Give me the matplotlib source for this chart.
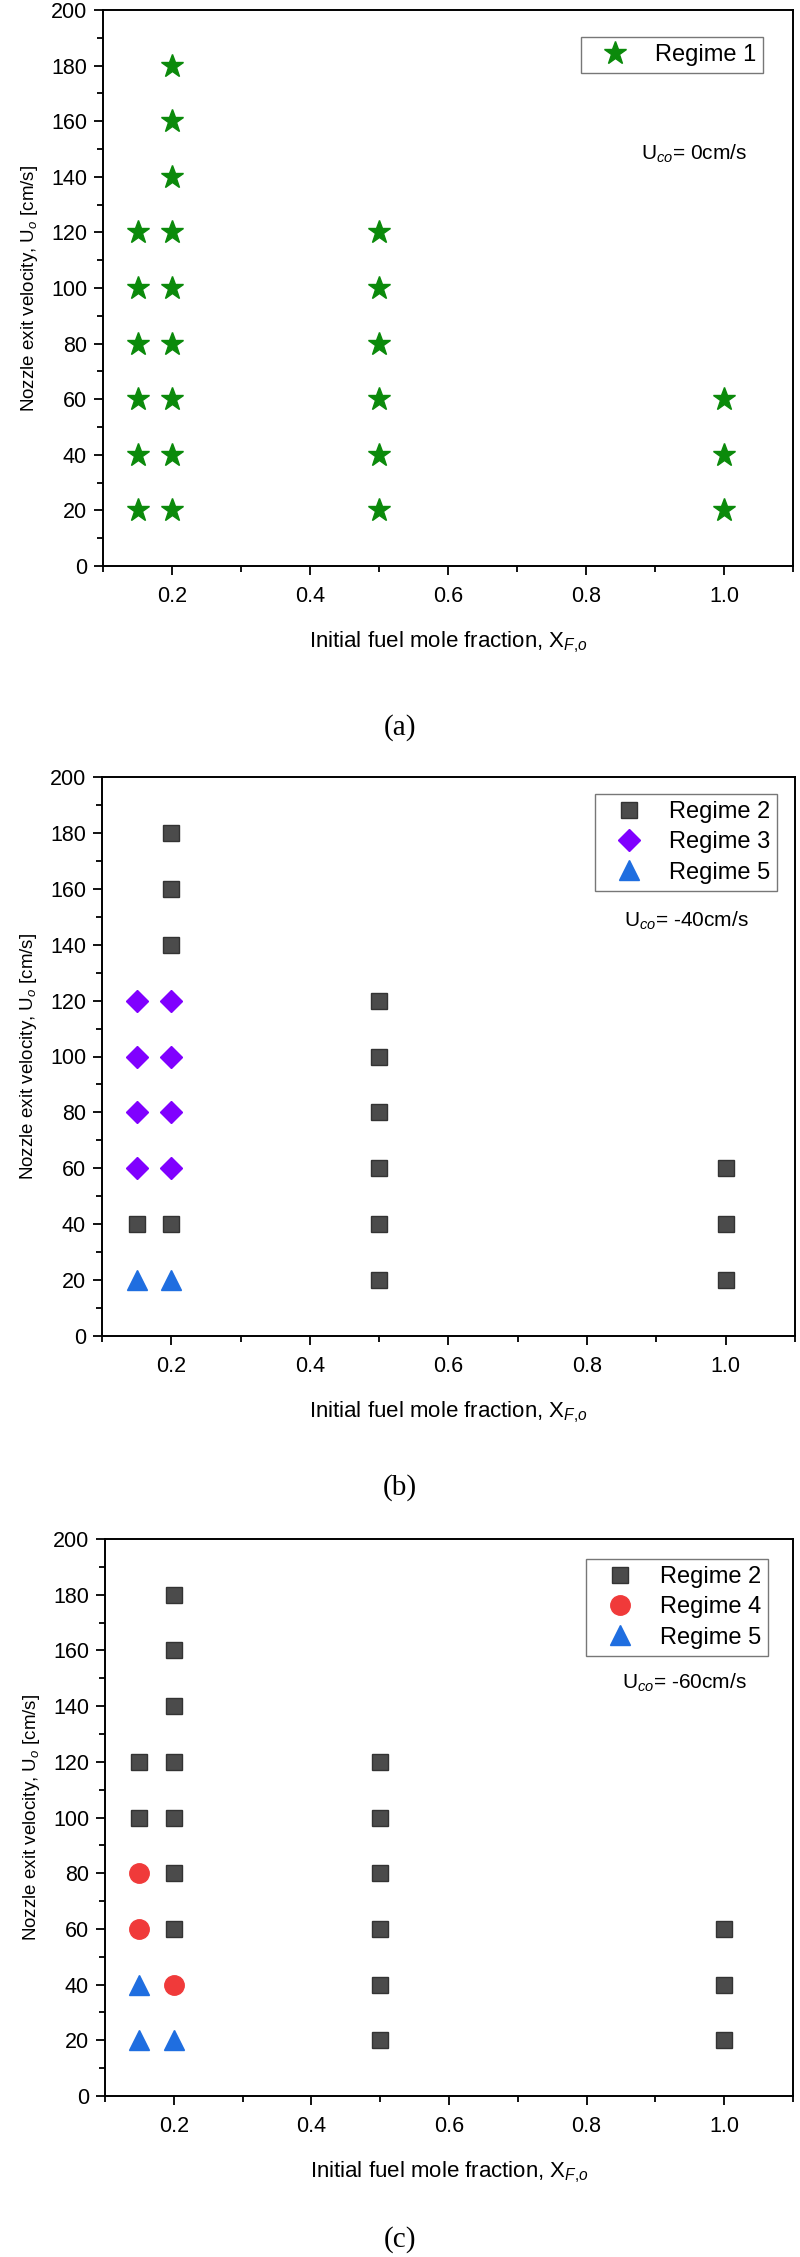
import matplotlib
matplotlib.use("Agg")
import matplotlib.pyplot as plt
from matplotlib.ticker import MultipleLocator

plt.rcParams["font.family"] = ["Liberation Sans", "DejaVu Sans"]
plt.rcParams["mathtext.fontset"] = "custom"
plt.rcParams["mathtext.rm"] = "Liberation Sans"
plt.rcParams["mathtext.it"] = "Liberation Sans:italic"

# panel (a): U_co = 0 cm/s
a_r1_x = [0.15] * 6 + [0.2] * 9 + [0.5] * 6 + [1.0] * 3
a_r1_y = [20, 40, 60, 80, 100, 120,
          20, 40, 60, 80, 100, 120, 140, 160, 180,
          20, 40, 60, 80, 100, 120,
          20, 40, 60]

# panel (b): U_co = -40 cm/s
b_r2_x = [0.15, 0.2, 0.2, 0.2, 0.2] + [0.5] * 6 + [1.0] * 3
b_r2_y = [40, 40, 140, 160, 180, 20, 40, 60, 80, 100, 120, 20, 40, 60]
b_r3_x = [0.15] * 4 + [0.2] * 4
b_r3_y = [60, 80, 100, 120, 60, 80, 100, 120]
b_r5_x = [0.15, 0.2]
b_r5_y = [20, 20]

# panel (c): U_co = -60 cm/s
c_r2_x = [0.15, 0.15] + [0.2] * 7 + [0.5] * 6 + [1.0] * 3
c_r2_y = [100, 120, 60, 80, 100, 120, 140, 160, 180,
          20, 40, 60, 80, 100, 120, 20, 40, 60]
c_r4_x = [0.15, 0.15, 0.2]
c_r4_y = [60, 80, 40]
c_r5_x = [0.15, 0.15, 0.2]
c_r5_y = [20, 40, 20]

co_labels = ["U$_{co}$= 0cm/s", "U$_{co}$= -40cm/s", "U$_{co}$= -60cm/s"]
captions = ["(a)", "(b)", "(c)"]

GREEN = "#0b8a0b"
GREY = "#4b4b4b"
PURPLE = "#8000ff"
RED = "#f03a3a"
BLUE = "#1f6ee0"

W, H = 800, 2257
fig = plt.figure(figsize=(W / 100, H / 100), dpi=100)

# axes boxes in pixels: left, right, top, bottom
boxes = [(103, 793, 10, 566), (102, 795, 777, 1336), (105, 793, 1539, 2096)]
# legend upper-right corner offset from the axes corner, pixels (right, top)
leg_offsets = [(30, 27), (18, 17), (25, 20)]

axes = []
for left, right, top, bottom in boxes:
    axes.append(fig.add_axes([left / W, 1 - bottom / H, (right - left) / W, (bottom - top) / H]))

ax = axes[0]
ax.plot(a_r1_x, a_r1_y, ls="none", marker="*", ms=17, color=GREEN, label="Regime 1")

ax = axes[1]
ax.plot(b_r2_x, b_r2_y, ls="none", marker="s", ms=12, color=GREY, mec="#333333", label="Regime 2")
ax.plot(b_r3_x, b_r3_y, ls="none", marker="D", ms=11.5, color=PURPLE, label="Regime 3")
ax.plot(b_r5_x, b_r5_y, ls="none", marker="^", ms=14, color=BLUE, label="Regime 5")

ax = axes[2]
ax.plot(c_r2_x, c_r2_y, ls="none", marker="s", ms=12, color=GREY, mec="#333333", label="Regime 2")
ax.plot(c_r4_x, c_r4_y, ls="none", marker="o", ms=14, color=RED, label="Regime 4")
ax.plot(c_r5_x, c_r5_y, ls="none", marker="^", ms=14, color=BLUE, label="Regime 5")

for i, ax in enumerate(axes):
    left, right, top, bottom = boxes[i]
    ax.set_xlim(0.1, 1.1)
    ax.set_ylim(0, 200)
    ax.xaxis.set_major_locator(MultipleLocator(0.2))
    ax.xaxis.set_minor_locator(MultipleLocator(0.1))
    ax.yaxis.set_major_locator(MultipleLocator(20))
    ax.yaxis.set_minor_locator(MultipleLocator(10))
    ax.set_xticks([0.2, 0.4, 0.6, 0.8, 1.0])
    ax.set_xticklabels(["0.2", "0.4", "0.6", "0.8", "1.0"])
    ax.tick_params(which="major", direction="out", length=6.5, width=1.3, labelsize=15.5, pad=5)
    ax.tick_params(which="minor", direction="out", length=4, width=1.3)
    ax.tick_params(axis="x", which="major", pad=8)
    for sp in ax.spines.values():
        sp.set_linewidth(1.4)
    ax.set_xlabel("Initial fuel mole fraction, X$_{F{,}o}$", fontsize=16, labelpad=16)
    ax.set_ylabel("Nozzle exit velocity, U$_{o}$ [cm/s]", fontsize=13.5, labelpad=8)
    dx, dy = leg_offsets[i]
    anchor = ((right - dx - left) / (right - left), (bottom - top - dy) / (bottom - top))
    leg = ax.legend(loc="upper right", bbox_to_anchor=anchor, borderaxespad=0,
                    fontsize=17, frameon=True, fancybox=False,
                    edgecolor="#777777", framealpha=1, handletextpad=0.6,
                    borderpad=0.3, labelspacing=0.35, handlelength=2.2,
                    numpoints=1)
    leg.get_frame().set_linewidth(1.0)
    ax.text(0.933, 0.742, co_labels[i], transform=ax.transAxes, fontsize=15,
            ha="right", va="center")

cap_y = [728, 1488, 2240]
for cap, y in zip(captions, cap_y):
    fig.text(0.5, 1 - y / H, cap, fontsize=21, ha="center", va="center",
             family=["Liberation Serif", "DejaVu Serif"])

fig.savefig("out.png", dpi=100)
